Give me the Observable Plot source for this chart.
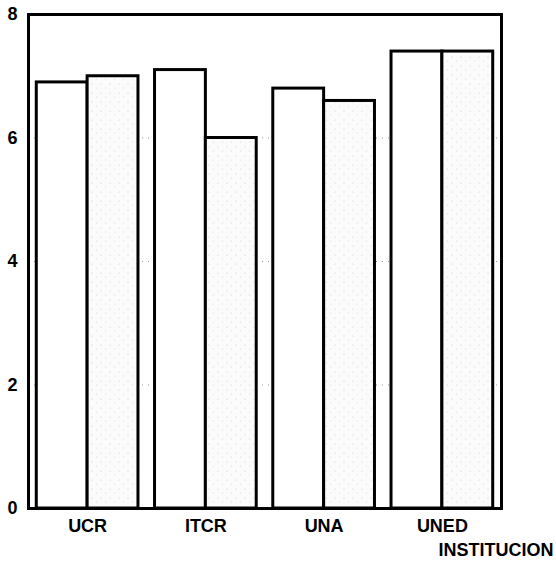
<!DOCTYPE html>
<html>
<head>
<meta charset="utf-8">
<script src="https://cdn.jsdelivr.net/npm/d3@7"></script>
<script src="https://cdn.jsdelivr.net/npm/@observablehq/plot@0.6"></script>
<style>
  html, body { margin: 0; padding: 0; background: #fff; }
</style>
</head>
<body>
<svg width="0" height="0" style="position:absolute">
  <defs>
    <pattern id="stip" width="9" height="9" patternUnits="userSpaceOnUse">
      <rect width="9" height="9" fill="#fbfbfb"></rect>
      <circle cx="2" cy="3" r="0.5" fill="#c4c4c4"></circle>
      <circle cx="6.5" cy="7" r="0.5" fill="#d0d0d0"></circle>
    </pattern>
  </defs>
</svg>
<div id="chart"></div>
<script>
const institutions = ["UCR", "ITCR", "UNA", "UNED"];
const serie1 = [6.9, 7.1, 6.8, 7.4];
const serie2 = [7.0, 6.0, 6.6, 7.4];
const yTicks = [0, 2, 4, 6, 8];
const gridValues = [2, 4, 6];
const xTitle = "INSTITUCION";

const half = 0.43;
const rows1 = institutions.map((d, i) => ({inst: d, x1: i - half, x2: i, v: serie1[i]}));
const rows2 = institutions.map((d, i) => ({inst: d, x1: i, x2: i + half, v: serie2[i]}));

const chart = Plot.plot({
  width: 556,
  height: 565,
  marginLeft: 28,
  marginTop: 14,
  marginRight: 55,
  marginBottom: 57,
  style: {fontFamily: "'Liberation Sans', Arial, sans-serif", fontSize: "18px", fontWeight: "bold", color: "#000", background: "#fff"},
  x: {type: "linear", domain: [-0.5, 3.5], axis: null},
  y: {domain: [0, 8], axis: null},
  marks: [
    Plot.ruleY(gridValues, {stroke: "#999", strokeDasharray: "1,5", strokeWidth: 1}),
    Plot.rectY(rows1, {x1: "x1", x2: "x2", y1: 0, y2: "v", fill: "#fff", stroke: "#000", strokeWidth: 3}),
    Plot.rectY(rows2, {x1: "x1", x2: "x2", y1: 0, y2: "v", fill: "url(#stip)", stroke: "#000", strokeWidth: 3}),
    Plot.axisY(yTicks, {tickSize: 0, tickPadding: 11, tickFormat: d => String(d), fontSize: 18, fontWeight: "bold", label: null}),
    Plot.axisX([0, 1, 2, 3], {tickSize: 0, tickPadding: 11, tickFormat: i => institutions[i], fontSize: 18, fontWeight: "bold", label: null}),
    Plot.text([xTitle], {frameAnchor: "bottom-right", dx: 52, dy: 47, textAnchor: "end", fontSize: 18, fontWeight: "bold"}),
    Plot.frame({stroke: "#000", strokeWidth: 3})
  ]
});
document.getElementById("chart").appendChild(chart);
</script>
</body>
</html>
